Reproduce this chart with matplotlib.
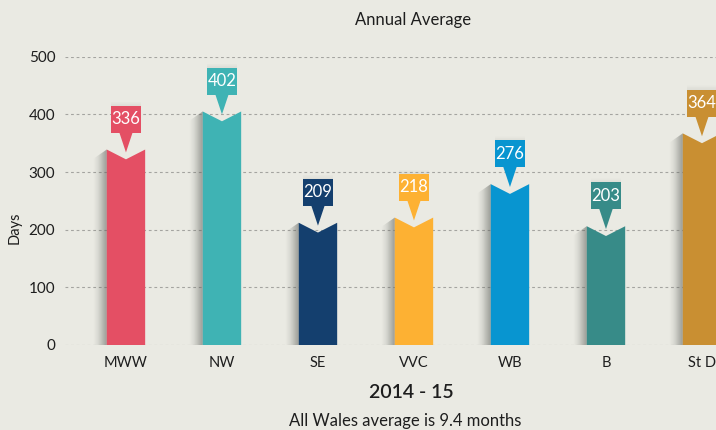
import matplotlib
matplotlib.use("Agg")
import matplotlib.pyplot as plt
from matplotlib.patches import Polygon, Rectangle

regions = ["MWW", "NW", "SE", "VVC", "WB", "B", "St D"]
days = [336, 402, 209, 218, 276, 203, 364]
colors = ["#E44F64", "#3FB3B4", "#143F6E", "#FDB133", "#0895D0", "#378B88", "#C98F32"]
yticks = [0, 100, 200, 300, 400, 500]

BG = "#EAEAE3"
TXT = "#1e1e1e"
plt.rcParams["font.family"] = ["Lato", "DejaVu Sans"]

fig = plt.figure(figsize=(7.16, 4.3), dpi=100, facecolor=BG)
ax = fig.add_axes([65 / 716, 85 / 430, 651 / 716, 288.3 / 430], facecolor=BG)
ax.set_xlim(-0.635, 6.146)
ax.set_ylim(0, 500)

for y in yticks:
    ax.axhline(y, color="#a4a4a0", lw=0.8, ls=(0, (2.5, 2.5)), zorder=1)

bw = 0.40      # bar width
sw = 0.14      # shadow width
lw_box = 0.32  # label box width
for i, (v, c) in enumerate(zip(days, colors)):
    left, right = i - bw / 2, i + bw / 2
    top = v + 3
    notch = v - 14

    # soft shadow on the left side of the bar
    n = 14
    for k in range(n):
        x1 = left - sw * k / n
        x0 = left - sw * (k + 1) / n
        t1 = top - 16 * k / n
        t0 = top - 16 * (k + 1) / n
        a = 0.6 * (1 - k / n) ** 1.6
        ax.add_patch(Polygon([(x0, 0), (x1, 0), (x1, t1), (x0, t0)],
                             closed=True, facecolor="#5f625d", edgecolor="none",
                             alpha=a, zorder=2))

    ax.add_patch(Polygon([(left, 0), (right, 0), (right, top), (i, notch), (left, top)],
                         closed=True, facecolor=c, edgecolor="none", zorder=3,
                         clip_on=False))

    # value label box with pointer
    b0, b1 = v + 32, v + 79
    for k in range(6):
        ax.add_patch(Rectangle((i - lw_box / 2, b1 + k * 1.2), lw_box, 1.2,
                               facecolor="#8a8a86", edgecolor="none",
                               alpha=0.12 * (1 - k / 6), zorder=3, clip_on=False))
    ax.add_patch(Rectangle((i - lw_box / 2, b0), lw_box, b1 - b0,
                           facecolor=c, edgecolor="none", zorder=4, clip_on=False))
    ax.add_patch(Polygon([(i - 0.07, b0 + 1), (i + 0.07, b0 + 1), (i, v - 2)],
                         closed=True, facecolor=c, edgecolor="none", zorder=4,
                         clip_on=False))
    ax.text(i, (b0 + b1) / 2, str(v), color="white", fontsize=12,
            ha="center", va="center", zorder=5, clip_on=False)

ax.set_xticks(range(len(regions)))
ax.set_xticklabels(regions, fontsize=10.5, color=TXT)
ax.set_yticks(yticks)
ax.set_yticklabels([str(y) for y in yticks], fontsize=11, color=TXT)
ax.tick_params(length=0, pad=7)
ax.tick_params(axis="x", pad=8)
for s in ax.spines.values():
    s.set_visible(False)

fig.text(15 / 716, 1 - 228 / 430, "Days", rotation=90, fontsize=10.5,
         ha="center", va="center", color=TXT)
fig.text(413 / 716, 1 - 20 / 430, "Annual Average", fontsize=12,
         ha="center", va="center", color=TXT)
fig.text(411 / 716, 1 - 393 / 430, "2014 - 15", fontsize=14, fontweight="semibold",
         ha="center", va="center", color=TXT)
fig.text(405 / 716, 1 - 421 / 430, "All Wales average is 9.4 months", fontsize=12,
         ha="center", va="center", color=TXT)

fig.savefig("out.png", dpi=100, facecolor=BG)
